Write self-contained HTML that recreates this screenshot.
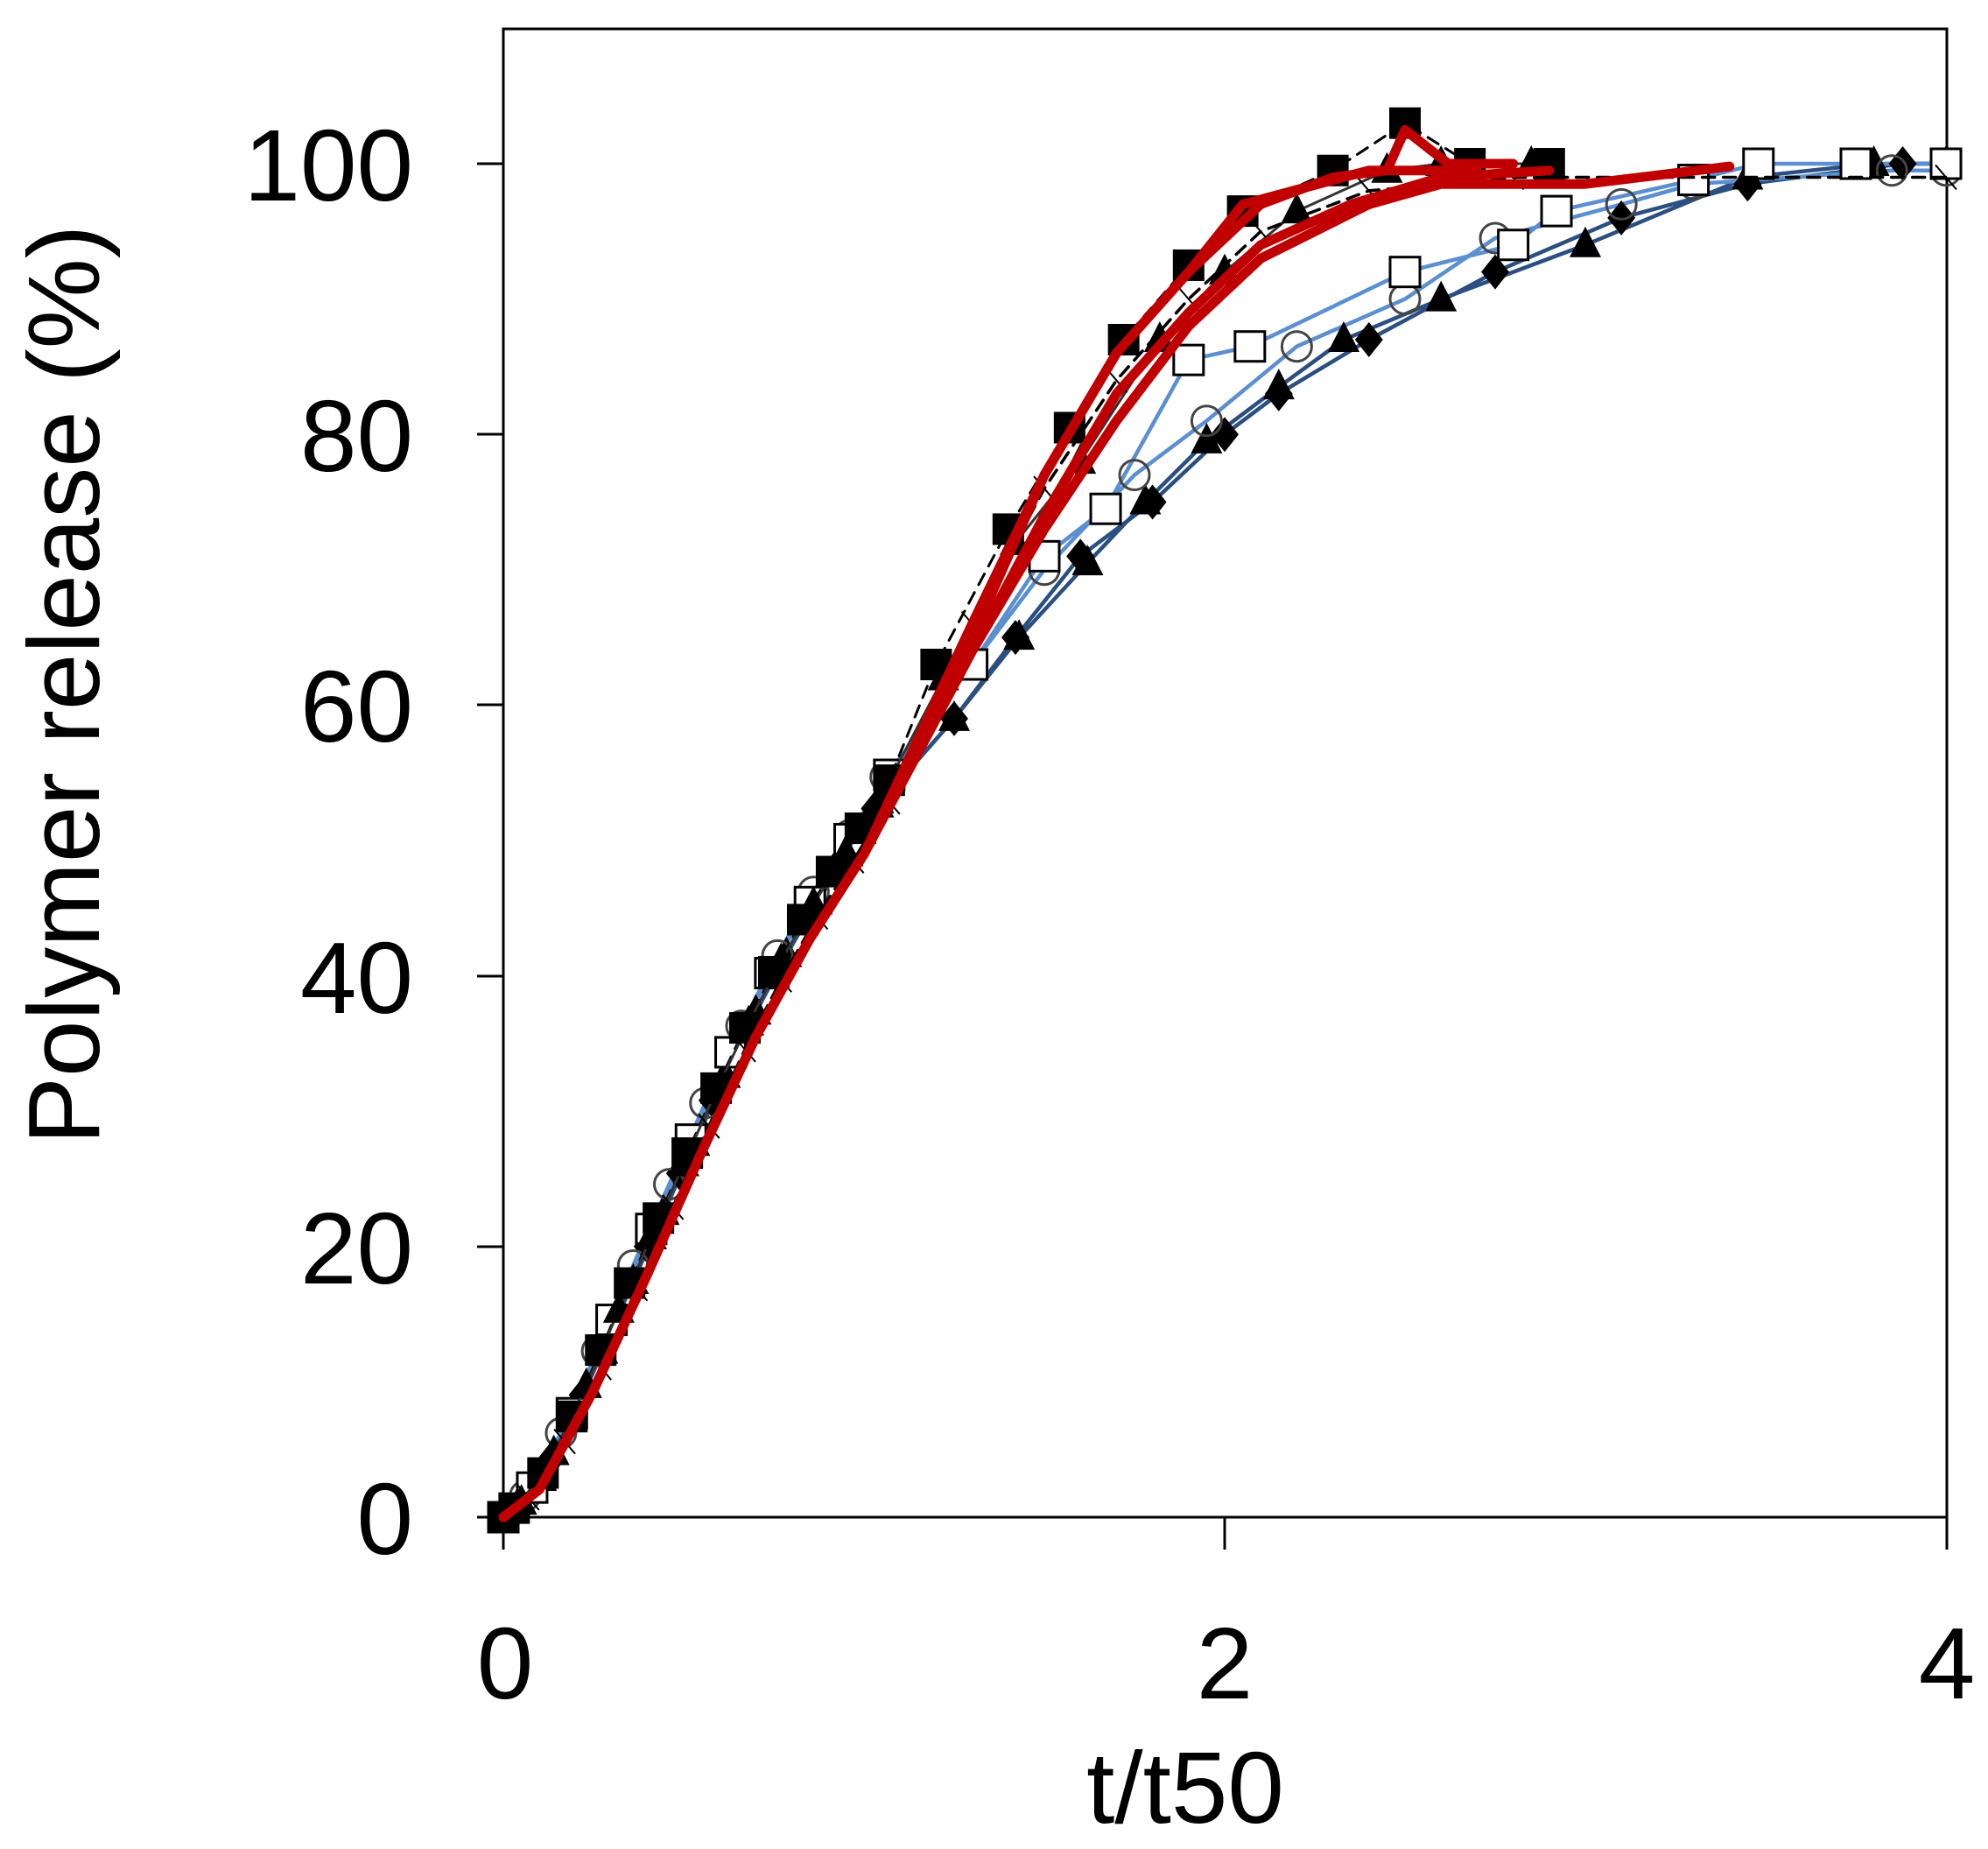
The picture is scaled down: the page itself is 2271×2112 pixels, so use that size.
<!DOCTYPE html>
<html><head><meta charset="utf-8"><style>html,body{margin:0;padding:0;background:#fff}svg{display:block}</style></head>
<body>
<svg id="s" width="2271" height="2112" viewBox="0 0 2271 2112" xmlns="http://www.w3.org/2000/svg" font-family="Liberation Sans, Arial, sans-serif">
<rect width="2271" height="2112" fill="#fff"/>
<rect x="575" y="33" width="1649" height="1700" fill="none" stroke="#000" stroke-width="3"/>
<g stroke="#000" stroke-width="3">
<line x1="545" y1="1733" x2="575" y2="1733"/><line x1="545" y1="1424" x2="575" y2="1424"/>
<line x1="545" y1="1115" x2="575" y2="1115"/><line x1="545" y1="805" x2="575" y2="805"/>
<line x1="545" y1="496" x2="575" y2="496"/><line x1="545" y1="187" x2="575" y2="187"/>
<line x1="575" y1="1733" x2="575" y2="1770"/><line x1="1399" y1="1733" x2="1399" y2="1770"/><line x1="2224" y1="1733" x2="2224" y2="1770"/>
</g>
<g font-size="116" text-anchor="end" fill="#000">
<text x="472" y="1775">0</text><text x="472" y="1466">20</text><text x="472" y="1157">40</text>
<text x="472" y="847">60</text><text x="472" y="538">80</text><text x="472" y="229">100</text>
</g>
<g font-size="116" text-anchor="middle" fill="#000">
<text x="577" y="1940">0</text><text x="1399" y="1940">2</text><text x="2224" y="1940">4</text>
<text x="1354" y="2082">t/t50</text>
<text transform="translate(113,782) rotate(-90)">Polymer release (%)</text>
</g>
<g id="d"></g>
</svg>
<script>
var X=function(x){return 575+412*x},Y=function(y){return 1733-15.46*y};
var B=[[0,0],[0.05,1],[0.1,2.5],[0.2,7.5],[0.3,13.5],[0.4,19.5],[0.5,25.5],[0.6,31.5],[0.7,37],[0.8,42],[0.9,46.5],[1.0,50.5],[1.1,55]];
function fb(x){for(var i=1;i<B.length;i++){if(x<=B[i][0]){var a=B[i-1],b=B[i];return a[1]+(b[1]-a[1])*(x-a[0])/(b[0]-a[0]);}}return 55;}
function mk(off,step,tail,dy){var r=[[0,0]];for(var x=off;x<1.1;x+=step)r.push([x,fb(x)+(dy||0)*Math.min(1,x*3)]);return r.concat(tail);}
var slow=mk(0.04,0.09,[[1.25,59],[1.42,65],[1.6,71],[1.8,75],[2,80],[2.15,83],[2.4,87],[2.75,92],[3.1,96],[3.45,98.5],[3.88,100],[4,100]],0.5);
var slow2=mk(0.02,0.085,[[1.25,59],[1.43,65],[1.62,70.5],[1.78,75],[1.95,79.5],[2.15,83.5],[2.33,87],[2.6,90],[3,94],[3.45,99],[3.8,100],[4,100]],0.3);
var mid=mk(0.06,0.1,[[1.3,63],[1.5,70],[1.75,77],[1.95,81],[2.2,86.5],[2.5,90],[2.75,94.5],[3.1,97],[3.3,98.5],[3.85,99.5],[4,99.5]],1.5);
var mid2=mk(0.08,0.11,[[1.3,63],[1.5,71],[1.67,74.5],[1.9,85.5],[2.07,86.5],[2.5,92],[2.8,94],[2.92,96.5],[3.3,98.8],[3.48,100],[3.75,100],[4,100]],1.2);
var fast=mk(0.03,0.08,[[1.2,63],[1.4,73],[1.57,80.5],[1.72,87],[1.9,92.5],[2.05,96.5],[2.3,99.5],[2.5,103],[2.68,100],[2.9,100]],0.8);
var fast2=mk(0.05,0.09,[[1.22,62],[1.42,72],[1.6,78],[1.82,87],[2,92],[2.2,96.5],[2.45,99.5],[2.6,100],[2.85,100]],0.6);
var red1=mk(0.1,0.15,[[1.3,66],[1.5,77],[1.7,86],[1.9,92],[2.05,97],[2.4,99.5],[2.7,99.5]],-1.5);
var red2=mk(0.1,0.15,[[1.3,64],[1.5,73],[1.7,81],[1.9,88],[2.1,93],[2.4,97],[2.6,98.5],[3,98.5],[3.4,99.8]],-1.5);
var red3=mk(0.1,0.15,[[1.3,64],[1.5,74],[1.7,83],[1.9,89],[2.1,94],[2.35,97],[2.6,99],[2.9,99.5]],-1.5);
var red4=mk(0.1,0.15,[[1.3,65],[1.5,77],[1.7,86],[1.9,92],[2.1,97],[2.3,99],[2.45,99.5],[2.5,102.5],[2.62,100],[2.8,100]],-1.5);
var dash=mk(0.07,0.1,[[1.3,66],[1.5,76],[1.7,84],[1.9,90],[2.1,95],[2.4,98],[2.8,99],[4,99]],-0.8);
var g=document.getElementById('d'),h='';
function pts(a){return a.map(function(p){return X(p[0]).toFixed(1)+','+Y(p[1]).toFixed(1)}).join(' ')}
function line(a,c,w,da){h+='<polyline points="'+pts(a)+'" fill="none" stroke="'+c+'" stroke-width="'+w+'"'+(da?' stroke-dasharray="'+da+'"':'')+' stroke-linejoin="round" stroke-linecap="round"/>'}
function marks(a,t){a.forEach(function(p){var x=X(p[0]),y=Y(p[1]);
 if(t=='sq')h+='<rect x="'+(x-18)+'" y="'+(y-18)+'" width="36" height="36" fill="#000"/>';
 if(t=='osq')h+='<rect x="'+(x-17)+'" y="'+(y-17)+'" width="34" height="34" fill="#fff" stroke="#000" stroke-width="3"/>';
 if(t=='oc')h+='<circle cx="'+x+'" cy="'+y+'" r="17" fill="none" stroke="#444" stroke-width="3"/>';
 if(t=='di')h+='<polygon points="'+x+','+(y-20)+' '+(x+16)+','+y+' '+x+','+(y+20)+' '+(x-16)+','+y+'" fill="#000"/>';
 if(t=='tr')h+='<polygon points="'+x+','+(y-21)+' '+(x+18)+','+(y+14)+' '+(x-18)+','+(y+14)+'" fill="#000"/>';
 if(t=='x')h+='<path d="M'+(x-12)+','+(y-14)+'L'+(x+12)+','+(y+14)+'" stroke="#000" stroke-width="2"/>';
});}
line(slow,'#2a4f80',4.5);line(slow2,'#2a4f80',4.5);line(mid,'#5b8fd0',4.5);line(mid2,'#5b8fd0',4.5);
marks(slow,'di');marks(slow2,'tr');marks(mid,'oc');marks(mid2,'osq');
line(fast,'#000',3,'14,10');line(fast2,'#333',3);marks(fast,'sq');marks(fast2,'tr');line(dash,'#000',3.5,'14,10');marks(dash,'x');
[red1,red2,red3,red4].forEach(function(a){line(a,'#c00000',11)});
g.innerHTML=h;
</script>
</body></html>
